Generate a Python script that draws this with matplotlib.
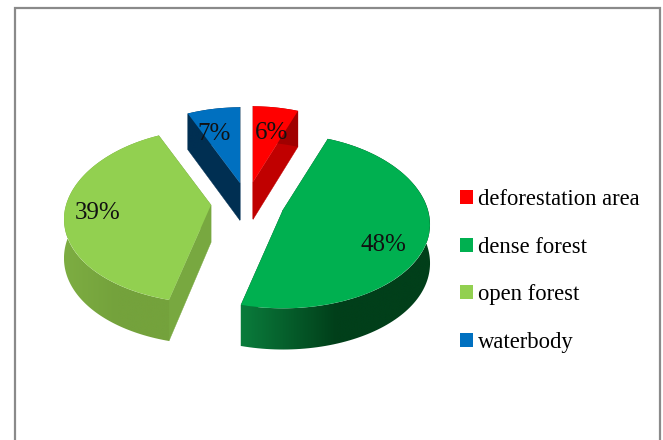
import numpy as np
import matplotlib
matplotlib.use("Agg")
import matplotlib.pyplot as plt
from matplotlib.colors import LinearSegmentedColormap
from matplotlib.patches import Patch, Polygon
from matplotlib.transforms import Transform

# ==========================
# Data
# ==========================

categories = ["deforestation area", "dense forest", "open forest", "waterbody"]
values = [6, 48, 39, 7]

top_colors = ["#FF0000", "#00B050", "#92D050", "#0070C0"]
cut_colors = ["#C00000", "#006B30", "#78A840", "#002F52"]
rim_light = ["#C00000", "#0A7C3C", "#7DAD42", "#002F52"]
rim_dark = ["#A00000", "#013F1A", "#74A23C", "#002F52"]

# where each exploded slice has its point on the page (pixels)
apex = [(253, 182), (283, 210), (211, 205), (240, 183)]
label_pos = [(272, 133), (383, 245), (98, 213), (214, 134)]

RX, RY = 145, 87
TILT_X, TILT_Y = 0.17, 0.13


# ==========================
# Fake 3D projection
# ==========================

def project(xy, center):
    xy = np.asarray(xy, dtype=float)
    x, y = xy[..., 0], xy[..., 1]
    px = center[0] + RX * x * (1 - TILT_X * y)
    py = center[1] - RY * y * (1 - TILT_Y * y)
    return np.stack([px, py], axis=-1)


def depth(y):
    return 38.5 - 2.7 * y


class SliceProjection(Transform):
    input_dims = 2
    output_dims = 2

    def __init__(self, center):
        super().__init__()
        self.center = center

    def transform_non_affine(self, values):
        return project(values, self.center)


# ==========================
# Plot
# ==========================

fig = plt.figure(figsize=(6.63, 4.40), dpi=100)
ax = fig.add_axes([0, 0, 1, 1])

wedges, _ = ax.pie(values, startangle=90, counterclock=False, colors=top_colors)

for i, wedge in enumerate(wedges):
    center = apex[i]
    angles = np.radians(np.linspace(wedge.theta1, wedge.theta2, 120))
    unit = np.column_stack([np.cos(angles), np.sin(angles)])
    top = project(unit, center)
    low = top + np.column_stack([np.zeros(len(top)), depth(unit[:, 1])])

    # flat cut faces
    for end in (0, -1):
        face = [center, top[end], low[end], (center[0], center[1] + depth(0) - 1)]
        ax.add_patch(Polygon(face, closed=True, facecolor=cut_colors[i],
                             edgecolor=cut_colors[i], lw=0.3, zorder=2 + i * 0.1))

    # curved outer wall, shaded along its width
    cmap = LinearSegmentedColormap.from_list("rim", [rim_light[i], rim_dark[i], rim_dark[i]])
    outline = np.vstack([top, low[::-1]])
    x0, x1 = outline[:, 0].min(), outline[:, 0].max()
    y0, y1 = outline[:, 1].min(), outline[:, 1].max()
    grad = np.linspace(0, 1, 256).reshape(1, -1)
    im = ax.imshow(grad, cmap=cmap, extent=(x0, x1, y1, y0), aspect="auto",
                   interpolation="bilinear", zorder=2.5 + i * 0.1)
    im.set_clip_path(Polygon(outline, closed=True, transform=ax.transData))

    wedge.set_transform(SliceProjection(center) + ax.transData)
    wedge.set_zorder(3 + i * 0.1)

ax.set_aspect("auto")
ax.set_xlim(0, 663)
ax.set_ylim(440, 0)
ax.axis("off")

for value, pos in zip(values, label_pos):
    ax.text(pos[0], pos[1], f"{value}%", ha="center", va="center", zorder=5,
            family="Liberation Serif", fontsize=18, color="#111111")

handles = [Patch(facecolor=c, edgecolor="none") for c in top_colors]
ax.legend(handles, categories, loc="center left", bbox_to_anchor=(460 / 663, 1 - 271 / 440),
          frameon=False, prop={"family": "Liberation Serif", "size": 16.3},
          handlelength=0.58, handleheight=0.58, handletextpad=0.22,
          labelspacing=1.17, borderpad=0, borderaxespad=0)

# grey frame, cut off at the bottom of the picture
ax.plot([15, 15, 660, 660], [445, 8, 8, 445], color="#8A8A8A", lw=1.6, zorder=1,
        solid_joinstyle="miter")

fig.savefig("out.png", dpi=100)
plt.close(fig)
